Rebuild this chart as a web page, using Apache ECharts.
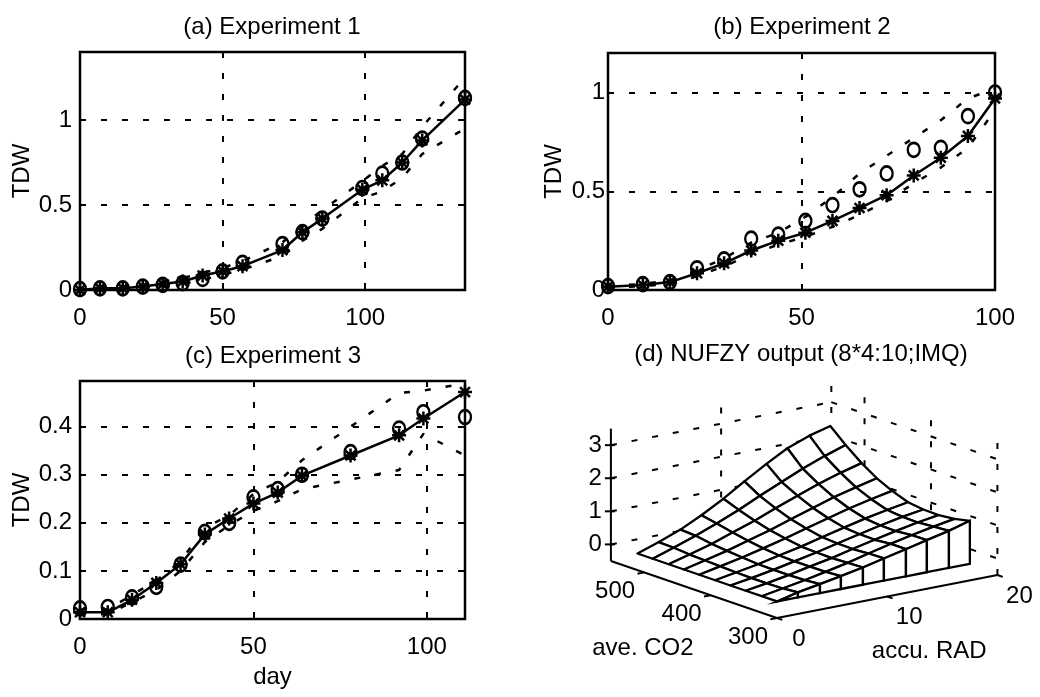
<!DOCTYPE html>
<html><head><meta charset="utf-8">
<script src="https://cdn.jsdelivr.net/npm/echarts@6/dist/echarts.min.js"></script>
<style>html,body{margin:0;padding:0;background:#fff}#c{width:1040px;height:697px}</style>
</head><body><div id="c"></div>
<script>
// ---------- Panel (a) Experiment 1 ----------
const dayA   = [0,7,15,22,29,36,43,50,57,71,78,85,99,106,113,120,135];
const modelA = [0,0.01,0.01,0.02,0.035,0.05,0.085,0.11,0.14,0.235,0.34,0.42,0.59,0.645,0.75,0.88,1.12];
const obsA   = [0.005,0.01,0.01,0.02,0.03,0.04,0.065,0.11,0.16,0.27,0.34,0.42,0.6,0.685,0.75,0.89,1.13];
const upperA = [0,0.015,0.02,0.03,0.05,0.07,0.10,0.13,0.17,0.28,0.38,0.47,0.64,0.73,0.80,0.96,1.25];
const lowerA = [0,0.005,0.005,0.01,0.02,0.035,0.06,0.09,0.12,0.20,0.29,0.36,0.54,0.58,0.66,0.80,0.95];
const ticksAx = [0,50,100];
const ticksAy = [0,0.5,1];

// ---------- Panel (b) Experiment 2 ----------
const dayB   = [0,9,16,23,30,37,44,51,58,65,72,79,86,93,100];
const modelB = [0.017,0.025,0.04,0.085,0.135,0.2,0.25,0.29,0.35,0.415,0.48,0.58,0.67,0.78,0.97];
const obsB   = [0.02,0.03,0.04,0.11,0.155,0.26,0.28,0.35,0.43,0.51,0.59,0.71,0.72,0.88,1.0];
const upperB = [0.02,0.03,0.05,0.1,0.16,0.24,0.29,0.37,0.47,0.59,0.68,0.77,0.86,0.97,1.02];
const lowerB = [0.01,0.02,0.03,0.07,0.12,0.18,0.23,0.27,0.32,0.38,0.45,0.54,0.62,0.72,0.91];
const ticksBx = [0,50,100];
const ticksBy = [0,0.5,1];

// ---------- Panel (c) Experiment 3 ----------
const dayC   = [0,8,15,22,29,36,43,50,57,64,78,92,99,111];
const modelC = [0.014,0.014,0.04,0.075,0.114,0.176,0.209,0.24,0.263,0.298,0.34,0.382,0.417,0.472];
const obsC   = [0.022,0.025,0.045,0.067,0.113,0.181,0.2,0.253,0.27,0.3,0.347,0.396,0.43,0.42];
const upperC = [0.02,0.02,0.05,0.08,0.12,0.19,0.215,0.26,0.285,0.33,0.40,0.47,0.475,0.49];
const lowerC = [0.01,0.01,0.035,0.06,0.10,0.16,0.195,0.225,0.245,0.27,0.29,0.31,0.385,0.34];
const ticksCx = [0,50,100];
const ticksCy = [0,0.1,0.2,0.3,0.4];

// ---------- Panel (d) NUFZY output surface ----------
const co2Grid = [300,323,347,370,393,417,440,463,487,510];
const radGrid = [0,1.9,3.9,5.8,7.8,9.7,11.7,13.6,15.6,17.5];
const zGrid = [ // rows: co2Grid, cols: radGrid
  [0,0.15,0.27,0.39,0.52,0.67,0.82,0.97,1.12,1.30],
  [0,0.11,0.23,0.36,0.50,0.66,0.82,0.96,1.09,1.20],
  [0,0.10,0.22,0.35,0.48,0.63,0.78,0.92,1.05,1.15],
  [0,0.10,0.22,0.35,0.49,0.64,0.79,0.93,1.06,1.16],
  [0,0.11,0.23,0.37,0.51,0.67,0.83,0.98,1.11,1.22],
  [0,0.13,0.27,0.42,0.59,0.77,0.95,1.12,1.27,1.40],
  [0,0.15,0.31,0.49,0.68,0.89,1.10,1.30,1.47,1.62],
  [0,0.17,0.36,0.58,0.81,1.06,1.31,1.54,1.75,1.92],
  [0,0.21,0.44,0.69,0.97,1.27,1.56,1.84,2.09,2.30],
  [0,0.22,0.47,0.78,1.15,1.55,1.95,2.30,2.55,2.72]
];
const co2Ticks = [300,400,500];
const radTicks = [0,10,20];
const zTicks = [0,1,2,3];

// ---------- helpers ----------
const FONT = 'Liberation Sans, Arial, sans-serif';
const DASH = [6,15];
const LW = 2.5;
const STAR = 'path://M0,-10L0,10M-10,0L10,0M-7.07,-7.07L7.07,7.07M-7.07,7.07L7.07,-7.07';
function fmt(labels){ return v => { const k = labels.findIndex(t => Math.abs(t - v) < 1e-9); return k >= 0 ? String(labels[k]) : ''; }; }

function xAx(g, max, ticks, extra){
  return Object.assign({gridIndex:g, type:'value', min:0, max:max, interval:50,
    axisLine:{show:false}, axisTick:{show:true, inside:true, length:6, lineStyle:{color:'#000', width:2}},
    axisLabel:{fontSize:24, color:'#000', fontFamily:FONT, margin:16, formatter:fmt(ticks), showMinLabel:true, showMaxLabel:true},
    splitLine:{show:true, lineStyle:{color:'#000', width:2, type:DASH}}}, extra||{});
}
function yAx(g, max, interval, ticks, margin, extra){
  return Object.assign({gridIndex:g, type:'value', min:0, max:max, interval:interval,
    name:'TDW', nameLocation:'middle', nameGap:38, nameRotate:90,
    nameTextStyle:{fontSize:24, color:'#000', fontFamily:FONT},
    axisLine:{show:false}, axisTick:{show:true, inside:true, length:6, lineStyle:{color:'#000', width:2}},
    axisLabel:{fontSize:24, color:'#000', fontFamily:FONT, margin:margin, formatter:fmt(ticks), showMinLabel:true, showMaxLabel:true},
    splitLine:{show:true, lineStyle:{color:'#000', width:2, type:DASH}}}, extra||{});
}
function panelSeries(idx, days, model, obs, up, lo){
  const pts = arr => days.map((d,i) => [d, arr[i]]);
  return [
    {type:'line', xAxisIndex:idx, yAxisIndex:idx, data:pts(up), symbol:'none', clip:false,
     lineStyle:{color:'#000', width:LW, type:DASH}},
    {type:'line', xAxisIndex:idx, yAxisIndex:idx, data:pts(lo), symbol:'none', clip:false,
     lineStyle:{color:'#000', width:LW, type:DASH}},
    {type:'line', xAxisIndex:idx, yAxisIndex:idx, data:pts(model), symbol:STAR, symbolSize:14, clip:false,
     itemStyle:{color:'#000', borderColor:'#000', borderWidth:2.5},
     lineStyle:{color:'#000', width:LW}},
    {type:'scatter', xAxisIndex:idx, yAxisIndex:idx, data:pts(obs), symbol:'circle', symbolSize:[12,14], clip:false,
     itemStyle:{color:'rgba(0,0,0,0)', borderColor:'#000', borderWidth:2.5, opacity:1}}
  ];
}

// ---------- 3-D view for panel (d) ----------
const box = {cMin:300, cMax:550, rMin:0, rMax:20, zMin:-0.5, zMax:3.5};
const view = {az:37*Math.PI/180, el:15*Math.PI/180, Lx:276, Ly:276, Lz:137, ox:217, oy:52};
function proj(c, r, z){
  const X = (r - box.rMin)/(box.rMax - box.rMin)*view.Lx;
  const Y = (c - box.cMin)/(box.cMax - box.cMin)*view.Ly;
  const Z = (z - box.zMin)/(box.zMax - box.zMin)*view.Lz;
  const u = X*Math.cos(view.az) - Y*Math.sin(view.az);
  const up = (X*Math.sin(view.az) + Y*Math.cos(view.az))*Math.sin(view.el) + Z*Math.cos(view.el);
  return [view.ox + u, view.oy + up];
}
function depth(c, r){
  const X = (r - box.rMin)/(box.rMax - box.rMin)*view.Lx;
  const Y = (c - box.cMin)/(box.cMax - box.cMin)*view.Ly;
  return X*Math.sin(view.az) + Y*Math.cos(view.az);
}
const cells = [];
for (let j = 0; j < co2Grid.length - 1; j++)
  for (let i = 0; i < radGrid.length - 1; i++)
    cells.push([j, i, depth((co2Grid[j]+co2Grid[j+1])/2, (radGrid[i]+radGrid[i+1])/2)]);
cells.sort((a,b) => b[2] - a[2]);
const zRef = Math.min(...zGrid.map(r => Math.min(...r)));
const curtain = radGrid.slice(0, -1).map((r, i) => [i, 0]);

const lineEl = (a, b, dash, w) => ({type:'line', shape:{x1:a[0], y1:a[1], x2:b[0], y2:b[1]},
  style:{stroke:'#000', lineWidth:w||2, lineDash:dash||null}});
const textEl = (s, x, y, align) => ({type:'text', style:{text:s, x:x, y:y, align:align||'center', verticalAlign:'middle',
  fontSize:24, fontFamily:FONT, fill:'#000'}});

function wallsRender(params, api){
  const C = (c,r,z) => api.coord(proj(c,r,z));
  const ch = [];
  zTicks.forEach(z => {
    ch.push(lineEl(C(box.cMax, box.rMin, z), C(box.cMax, box.rMax, z), DASH));
    ch.push(lineEl(C(box.cMax, box.rMax, z), C(box.cMin, box.rMax, z), DASH));
  });
  radTicks.forEach(r => { if (r > box.rMin) ch.push(lineEl(C(box.cMax, r, box.zMin), C(box.cMax, r, box.zMax), DASH)); });
  co2Ticks.forEach(c => ch.push(lineEl(C(c, box.rMax, box.zMin), C(c, box.rMax, box.zMax), DASH)));
  return {type:'group', children:ch};
}
function surfRender(params, api){
  const j = api.value(0), i = api.value(1);
  const pts = [[j,i],[j+1,i],[j+1,i+1],[j,i+1]].map(([a,b]) => api.coord(proj(co2Grid[a], radGrid[b], zGrid[a][b])));
  return {type:'polygon', shape:{points:pts}, style:{fill:'#fff', stroke:'#000', lineWidth:2.3, lineJoin:'round'}};
}
function curtainRender(params, api){
  const i = api.value(0);
  const c = co2Grid[0];
  const pts = [api.coord(proj(c, radGrid[i], zGrid[0][i])), api.coord(proj(c, radGrid[i+1], zGrid[0][i+1])),
               api.coord(proj(c, radGrid[i+1], zRef)), api.coord(proj(c, radGrid[i], zRef))];
  return {type:'polygon', shape:{points:pts}, style:{fill:'#fff', stroke:'#000', lineWidth:2.3}};
}
function axesRender(params, api){
  const C = (c,r,z) => api.coord(proj(c,r,z));
  const ch = [];
  ch.push(lineEl(C(box.cMax, box.rMin, box.zMin), C(box.cMax, box.rMin, box.zMax)));
  ch.push(lineEl(C(box.cMax, box.rMin, box.zMin), C(box.cMin, box.rMin, box.zMin)));
  ch.push(lineEl(C(box.cMin, box.rMin, box.zMin), C(box.cMin, box.rMax, box.zMin)));
  zTicks.forEach(z => {
    const p = C(box.cMax, box.rMin, z);
    ch.push(lineEl([p[0]-6, p[1]], [p[0]+4, p[1]]));
    ch.push(textEl(String(z), p[0]-9, p[1], 'right'));
  });
  co2Ticks.forEach(c => {
    const p = C(c, box.rMin, box.zMin), q = C(c, box.rMin - 0.6, box.zMin);
    ch.push(lineEl(p, q));
    ch.push(textEl(String(c), p[0]-29, p[1]+19));
  });
  radTicks.forEach(r => {
    const p = C(box.cMin, r, box.zMin), q = C(box.cMin - 8, r, box.zMin);
    ch.push(lineEl(p, q));
    ch.push(textEl(String(r), p[0]+22, p[1]+21));
  });
  const mc = C((box.cMin + box.cMax)/2, box.rMin, box.zMin);
  ch.push(textEl('ave. CO2', mc[0]-51, mc[1]+59));
  const mr = C(box.cMin, (box.rMin + box.rMax)/2, box.zMin);
  ch.push(textEl('accu. RAD', mr[0]+42, mr[1]+55));
  return {type:'group', children:ch};
}

const titleStyle = {fontSize:24, fontWeight:'normal', color:'#000', fontFamily:FONT};
const gridBox = {show:true, borderColor:'#000', borderWidth:2.5, backgroundColor:'transparent'};

const option = {
  animation:false,
  backgroundColor:'#fff',
  title:[
    {text:'(a) Experiment 1', left:272, top:15, textAlign:'center', padding:0, textStyle:titleStyle},
    {text:'(b) Experiment 2', left:802, top:15, textAlign:'center', padding:0, textStyle:titleStyle},
    {text:'(c) Experiment 3', left:273, top:344, textAlign:'center', padding:0, textStyle:titleStyle},
    {text:'(d) NUFZY output (8*4:10;IMQ)', left:801, top:342, textAlign:'center', padding:0, textStyle:titleStyle}
  ],
  grid:[
    Object.assign({left:80, top:52, width:385, height:238}, gridBox),
    Object.assign({left:608, top:53, width:387, height:237}, gridBox),
    Object.assign({left:80, top:381, width:385, height:238}, gridBox),
    {left:560, top:370, width:460, height:300, show:false}
  ],
  xAxis:[
    xAx(0, 135, ticksAx),
    xAx(1, 100, ticksBx),
    xAx(2, 111, ticksCx, {name:'day', nameLocation:'middle', nameGap:46, nameTextStyle:{fontSize:24, color:'#000', fontFamily:FONT}}),
    {gridIndex:3, type:'value', min:0, max:460, show:false}
  ],
  yAxis:[
    yAx(0, 1.4, 0.5, ticksAy, 8),
    yAx(1, 1.2, 0.5, ticksBy, 3, {nameGap:42}),
    yAx(2, 0.495, 0.1, ticksCy, 8),
    {gridIndex:3, type:'value', min:0, max:300, show:false}
  ],
  series:[
    ...panelSeries(0, dayA, modelA, obsA, upperA, lowerA),
    ...panelSeries(1, dayB, modelB, obsB, upperB, lowerB),
    ...panelSeries(2, dayC, modelC, obsC, upperC, lowerC),
    {type:'custom', xAxisIndex:3, yAxisIndex:3, data:[[0,0]], renderItem:wallsRender, silent:true, z:2},
    {type:'custom', xAxisIndex:3, yAxisIndex:3, data:cells, renderItem:surfRender, silent:true, z:3},
    {type:'custom', xAxisIndex:3, yAxisIndex:3, data:curtain, renderItem:curtainRender, silent:true, z:4},
    {type:'custom', xAxisIndex:3, yAxisIndex:3, data:[[0,0]], renderItem:axesRender, silent:true, z:5}
  ]
};
const chart = echarts.init(document.getElementById('c'), null, {renderer:'canvas'});
chart.setOption(option);
</script>
</body></html>
